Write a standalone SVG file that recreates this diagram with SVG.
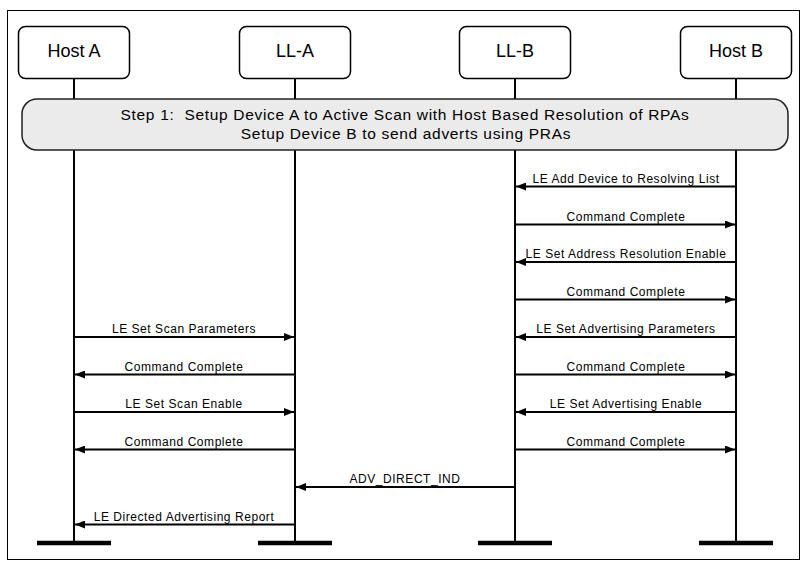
<svg xmlns="http://www.w3.org/2000/svg" width="807" height="568" viewBox="0 0 807 568">
<style>
.frame{fill:#fff;stroke:#000;stroke-width:1}
.box{fill:#fff;stroke:#000;stroke-width:1.5}
.step{fill:#ebebeb;stroke:#222;stroke-width:1.5}
.life{stroke:#000;stroke-width:2}
.bar{stroke:#000;stroke-width:4.5}
.msg{stroke:#000;stroke-width:2;fill:none}
.hl{font-family:"Liberation Sans",Arial,sans-serif;font-size:18px;fill:#000;text-anchor:middle}
.st{font-family:"Liberation Sans",Arial,sans-serif;font-size:15.5px;letter-spacing:0.68px;fill:#000;text-anchor:middle}
.ml{font-family:"Liberation Sans",Arial,sans-serif;font-size:12px;letter-spacing:0.55px;fill:#000;text-anchor:middle}
</style>
<defs>
<marker id="ah" viewBox="0 0 10 8" refX="10" refY="4" markerWidth="10" markerHeight="8" markerUnits="userSpaceOnUse" orient="auto">
<path d="M0,0 L10,4 L0,8 Z" fill="#000"/>
</marker>
</defs>
<rect x="0" y="0" width="807" height="568" fill="#fff"/>
<rect class="frame" x="7.5" y="10.5" width="792" height="549"/>
<g id="lifelines">
<line class="life" x1="74" y1="78" x2="74" y2="543"/>
<line class="life" x1="295" y1="78" x2="295" y2="543"/>
<line class="life" x1="515" y1="78" x2="515" y2="543"/>
<line class="life" x1="736" y1="78" x2="736" y2="543"/>
<line class="bar" x1="37" y1="543" x2="111" y2="543"/>
<line class="bar" x1="258" y1="543" x2="332" y2="543"/>
<line class="bar" x1="478" y1="543" x2="552" y2="543"/>
<line class="bar" x1="699" y1="543" x2="773" y2="543"/>
</g>
<g id="host-a"><rect class="box" x="18.5" y="26.5" width="111" height="52" rx="7"/><text class="hl" x="74" y="57">Host A</text></g>
<g id="ll-a"><rect class="box" x="239.5" y="26.5" width="111" height="52" rx="7"/><text class="hl" x="295" y="57">LL-A</text></g>
<g id="ll-b"><rect class="box" x="459.5" y="26.5" width="111" height="52" rx="7"/><text class="hl" x="515" y="57">LL-B</text></g>
<g id="host-b"><rect class="box" x="680.5" y="26.5" width="111" height="52" rx="7"/><text class="hl" x="736" y="57">Host B</text></g>
<g id="step1"><rect class="step" x="22" y="99" width="766" height="51" rx="15"/>
<text class="st" x="405" y="119.5" xml:space="preserve">Step 1:  Setup Device A to Active Scan with Host Based Resolution of RPAs</text>
<text class="st" x="406" y="139">Setup Device B to send adverts using PRAs</text></g>
<g id="connectors">
<line class="msg" x1="736" y1="186.5" x2="516" y2="186.5" marker-end="url(#ah)"/>
<text class="ml" x="626" y="183">LE Add Device to Resolving List</text>
<line class="msg" x1="515" y1="224.5" x2="735" y2="224.5" marker-end="url(#ah)"/>
<text class="ml" x="626" y="220.5">Command Complete</text>
<line class="msg" x1="736" y1="262" x2="516" y2="262" marker-end="url(#ah)"/>
<text class="ml" x="626" y="258">LE Set Address Resolution Enable</text>
<line class="msg" x1="515" y1="299.5" x2="735" y2="299.5" marker-end="url(#ah)"/>
<text class="ml" x="626" y="295.5">Command Complete</text>
<line class="msg" x1="736" y1="337" x2="516" y2="337" marker-end="url(#ah)"/>
<text class="ml" x="626" y="333">LE Set Advertising Parameters</text>
<line class="msg" x1="515" y1="374.5" x2="735" y2="374.5" marker-end="url(#ah)"/>
<text class="ml" x="626" y="370.5">Command Complete</text>
<line class="msg" x1="736" y1="412" x2="516" y2="412" marker-end="url(#ah)"/>
<text class="ml" x="626" y="408">LE Set Advertising Enable</text>
<line class="msg" x1="515" y1="449.5" x2="735" y2="449.5" marker-end="url(#ah)"/>
<text class="ml" x="626" y="445.5">Command Complete</text>
<line class="msg" x1="74" y1="337" x2="294" y2="337" marker-end="url(#ah)"/>
<text class="ml" x="184" y="333">LE Set Scan Parameters</text>
<line class="msg" x1="295" y1="374.5" x2="75" y2="374.5" marker-end="url(#ah)"/>
<text class="ml" x="184" y="370.5">Command Complete</text>
<line class="msg" x1="74" y1="412" x2="294" y2="412" marker-end="url(#ah)"/>
<text class="ml" x="184" y="408">LE Set Scan Enable</text>
<line class="msg" x1="295" y1="449.5" x2="75" y2="449.5" marker-end="url(#ah)"/>
<text class="ml" x="184" y="445.5">Command Complete</text>
<line class="msg" x1="515" y1="487" x2="296" y2="487" marker-end="url(#ah)"/>
<text class="ml" x="405" y="483">ADV_DIRECT_IND</text>
<line class="msg" x1="295" y1="524.5" x2="75" y2="524.5" marker-end="url(#ah)"/>
<text class="ml" x="184" y="520.5">LE Directed Advertising Report</text>
</g>
</svg>
